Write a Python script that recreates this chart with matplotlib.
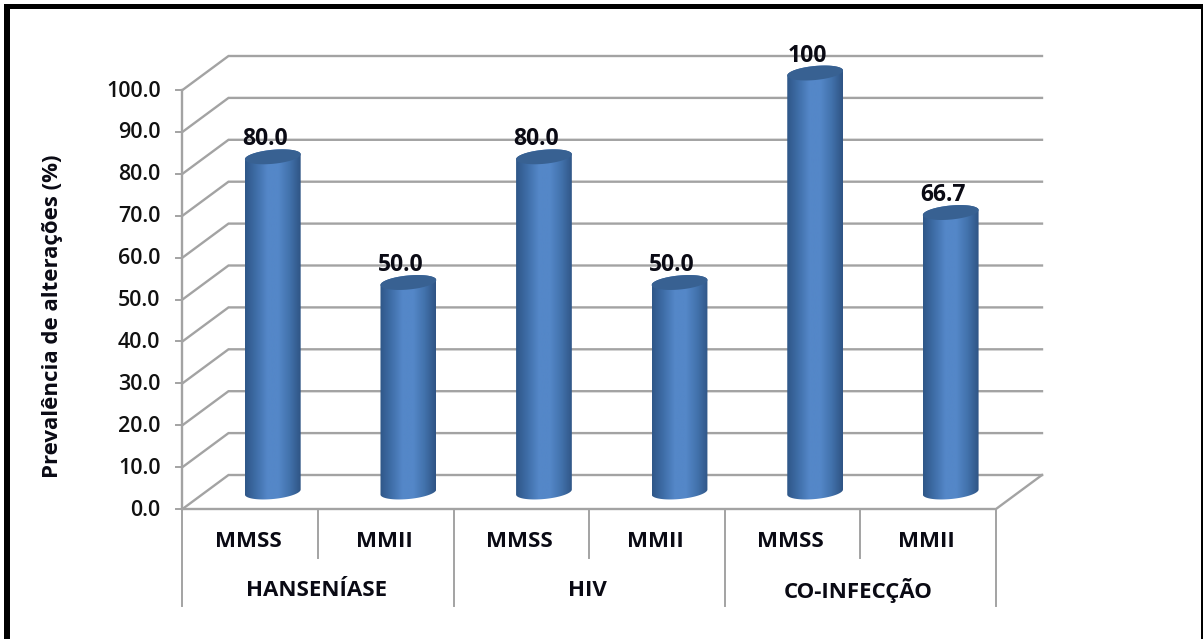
import numpy as np
import matplotlib
matplotlib.use("Agg")
import matplotlib.pyplot as plt
from matplotlib.patches import Polygon, Rectangle
from matplotlib.colors import LinearSegmentedColormap

# Data
groups = ["HANSENÍASE", "HIV", "CO-INFECÇÃO"]
categories = ["MMSS", "MMII", "MMSS", "MMII", "MMSS", "MMII"]
values = [80.0, 50.0, 80.0, 50.0, 100.0, 66.7]
value_labels = ["80.0", "50.0", "80.0", "50.0", "100", "66.7"]
y_ticks = list(range(0, 101, 10))
y_label = "Prevalência de alterações (%)"

W, H = 1203, 639
X0, X1, Y0, Y100 = 182.5, 996.0, 509.0, 90.0
PX_X = (X1 - X0) / len(categories)
PX_Y = (Y0 - Y100) / 100.0
DEPTH_X, DEPTH_Y = 46.0, 34.0
GRID = "#a3a3a3"
FONT = "Open Sans"
INK = "#0a0a14"

fig = plt.figure(figsize=(W / 100, H / 100), dpi=100)
ax = fig.add_axes([0, 0, 1, 1])
ax.set_xlim(-X0 / PX_X, (W - X0) / PX_X)
ax.set_ylim(-(H - Y0) / PX_Y, Y0 / PX_Y)
ax.axis("off")

dx = lambda p: p / PX_X
dy = lambda p: p / PX_Y
n = len(categories)

# Frame: left, top and right edge only, as cropped in the reference
frame_kw = dict(transform=fig.transFigure, fc="black", ec="none", zorder=10)
fig.patches.extend([
    Rectangle((4 / W, 0), 6 / W, 1 - 4 / H, **frame_kw),
    Rectangle((4 / W, 1 - 9 / H), 1 - 4 / W, 5 / H, **frame_kw),
    Rectangle((1201 / W, 0), 2 / W, 1 - 4 / H, **frame_kw),
])

# Walls and gridlines
for v in y_ticks:
    ax.plot([0, dx(DEPTH_X), n + dx(DEPTH_X)], [v, v + dy(DEPTH_Y), v + dy(DEPTH_Y)],
            color=GRID, lw=1.7, zorder=1, solid_joinstyle="miter")
    ax.plot([-dx(6), 0], [v, v], color=GRID, lw=1.4, zorder=1)
    ax.annotate(f"{v:.1f}", (0, v), xytext=(-22, -1), textcoords="offset pixels",
                ha="right", va="center", fontsize=15.5, family=FONT,
                weight="semibold", color="#111111")
ax.plot([0, 0], [0, 100], color=GRID, lw=1.7, zorder=1)
ax.plot([0, n, n + dx(DEPTH_X)], [0, 0, dy(DEPTH_Y)], color=GRID, lw=1.7, zorder=1)

# Axis bracket lines
low1 = -49 / PX_Y
low2 = -97 / PX_Y
for i in range(n + 1):
    ax.plot([i, i], [0, low2 if i % 2 == 0 else low1], color=GRID, lw=1.4, zorder=1)

# Cylinders
cmap = LinearSegmentedColormap.from_list(
    "cyl", ["#2f5788", "#3f6ea8", "#5487c8", "#5487c8", "#4272ac", "#2f5484"])
grad = cmap(np.linspace(0, 1, 128))[None, :, :]
RX, RY, TILT = 28.0, 7.0, np.radians(5.5)
t = np.linspace(0, 2 * np.pi, 121)


def ell(cx, cy, a):
    ex = RX * np.cos(a)
    ey = RY * np.sin(a)
    px = ex * np.cos(TILT) - ey * np.sin(TILT)
    py = ex * np.sin(TILT) + ey * np.cos(TILT)
    return cx + dx(px), cy + dy(py)


for i, (v, lab) in enumerate(zip(values, value_labels)):
    cx = i + 0.5 + dx(DEPTH_X / 2 - 0.5)
    base = dy(DEPTH_Y / 2)
    top = v + base
    lx, ly = ell(cx, base, -np.linspace(0, np.pi, 60))
    ux, uy = ell(cx, top, np.linspace(0, np.pi, 60))
    pts = np.r_[np.c_[lx, ly][::-1], np.c_[ux, uy]]
    clip = Polygon(pts, closed=True, transform=ax.transData, fc="none", ec="none")
    ax.add_patch(clip)
    im = ax.imshow(grad, extent=[cx - dx(RX), cx + dx(RX), -5, top + 5],
                   aspect="auto", zorder=3, interpolation="bilinear")
    im.set_clip_path(clip)
    ex, ey = ell(cx, top, t)
    ax.fill(ex, ey, color="#386192", zorder=4, lw=0)
    ax.annotate(lab, (cx, top), xytext=(-8, 17.5), textcoords="offset pixels",
                ha="center", va="center", fontsize=16.5, family=FONT, weight="bold",
                color=INK, zorder=6)

ax.set_xlim(-X0 / PX_X, (W - X0) / PX_X)
ax.set_ylim(-(H - Y0) / PX_Y, Y0 / PX_Y)

# Category labels
for i, c in enumerate(categories):
    ax.text(i + 0.5 - dx(2), -32.5 / PX_Y, c, ha="center", va="center", fontsize=16,
            family=FONT, weight="bold", color=INK)
for i, g in enumerate(groups):
    ax.text(2 * i + 1 - dx(2), -81.5 / PX_Y, g, ha="center", va="center", fontsize=16,
            family=FONT, weight="bold", color=INK)

# Axis title
ax.annotate(y_label, (0, 50), xytext=(-130, -17), textcoords="offset pixels",
            rotation=90, ha="center", va="center", fontsize=16, family=FONT,
            weight="bold", color=INK)

fig.savefig("out.png", dpi=100)
